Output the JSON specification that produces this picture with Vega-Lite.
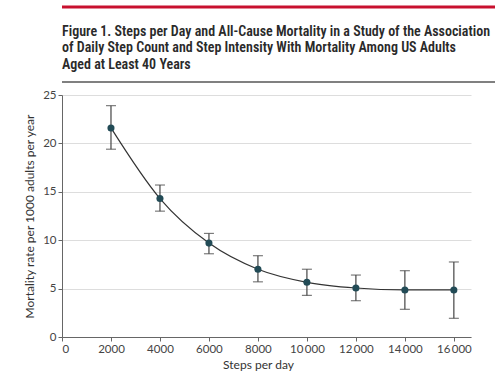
{
  "$schema": "https://vega.github.io/schema/vega-lite/v6.json",
  "padding": {"left": 23, "top": 5, "right": 20, "bottom": 5},
  "background": "white",
  "align": "none",
  "spacing": 6,
  "config": {"view": {"stroke": null}, "font": "Lato"},
  "vconcat": [
    {
      "width": 449,
      "height": 75,
      "data": {"values": [{"title": "Figure 1. Steps per Day and All-Cause Mortality in a Study of the Association\nof Daily Step Count and Step Intensity With Mortality Among US Adults\nAged at Least 40 Years"}]},
      "layer": [
        {
          "mark": {"type": "rule", "color": "#c8102e", "strokeWidth": 3},
          "encoding": {"y": {"datum": 1, "type": "quantitative", "scale": {"domain": [0, 1]}, "axis": null}}
        },
        {
          "mark": {"type": "rule", "color": "#808080", "strokeWidth": 2},
          "encoding": {"y": {"datum": 0, "type": "quantitative", "scale": {"domain": [0, 1]}, "axis": null}}
        },
        {
          "mark": {"type": "text", "align": "left", "baseline": "middle", "lineBreak": "\n", "font": "'Noto Sans Condensed', 'Roboto Condensed', 'Open Sans Condensed', 'Liberation Sans Narrow', Lato", "fontSize": 14, "fontWeight": 600, "lineHeight": 16.5, "color": "#2a2a2a"},
          "encoding": {
            "x": {"datum": 0, "type": "quantitative", "scale": {"domain": [0, 1]}, "axis": null},
            "y": {"datum": 0.67, "type": "quantitative", "scale": {"domain": [0, 1]}, "axis": null},
            "text": {"field": "title"}
          }
        }
      ]
    },
    {
      "width": 409,
      "height": 242,
      "data": {"values": [
        {"steps": 2000, "rate": 21.6, "lo": 19.4, "hi": 23.9},
        {"steps": 4000, "rate": 14.3, "lo": 13.0, "hi": 15.7},
        {"steps": 6000, "rate": 9.7, "lo": 8.6, "hi": 10.7},
        {"steps": 8000, "rate": 7.0, "lo": 5.7, "hi": 8.4},
        {"steps": 10000, "rate": 5.65, "lo": 4.3, "hi": 7.0},
        {"steps": 12000, "rate": 5.06, "lo": 3.75, "hi": 6.4},
        {"steps": 14000, "rate": 4.86, "lo": 2.86, "hi": 6.85},
        {"steps": 16000, "rate": 4.86, "lo": 1.93, "hi": 7.75}
      ]},
      "encoding": {
        "x": {
          "field": "steps", "type": "quantitative",
          "scale": {"domain": [0, 16700], "nice": false},
          "axis": {
            "values": [0, 2000, 4000, 6000, 8000, 10000, 12000, 14000, 16000],
            "grid": false,
            "labelExpr": "datum.value >= 10000 ? replace(format(datum.value, ','), ',', '\u2009') : format(datum.value, 'd')",
            "title": "Steps per day",
            "titleX": 196,
            "titleFontWeight": "normal", "titleFontSize": 12, "titleColor": "#333", "titlePadding": 5,
            "labelFontSize": 11.5, "labelColor": "#444", "labelPadding": 2,
            "domainColor": "#666", "tickColor": "#666", "tickSize": 4
          }
        }
      },
      "layer": [
        {
          "mark": {"type": "line", "interpolate": "monotone", "color": "#333", "strokeWidth": 1.2},
          "encoding": {
            "y": {
              "field": "rate", "type": "quantitative",
              "scale": {"domain": [0, 25], "nice": false},
              "axis": {
                "values": [0, 5, 10, 15, 20, 25],
                "grid": true, "gridColor": "#dddddd",
                "title": "Mortality rate per 1000 adults per year",
                "titleFontWeight": "normal", "titleFontSize": 12, "titleColor": "#333", "titlePadding": 6,
                "labelFontSize": 11.5, "labelColor": "#444", "labelPadding": 2,
                "domainColor": "#666", "tickColor": "#666", "tickSize": 4
              }
            }
          }
        },
        {
          "mark": {"type": "errorbar", "ticks": true, "size": 10, "thickness": 1.2, "color": "#444"},
          "encoding": {
            "y": {"field": "lo", "type": "quantitative", "title": "Mortality rate per 1000 adults per year"},
            "y2": {"field": "hi"}
          }
        },
        {
          "mark": {"type": "circle", "size": 50, "color": "#224b56", "opacity": 1},
          "encoding": {"y": {"field": "rate", "type": "quantitative"}}
        }
      ]
    }
  ]
}
